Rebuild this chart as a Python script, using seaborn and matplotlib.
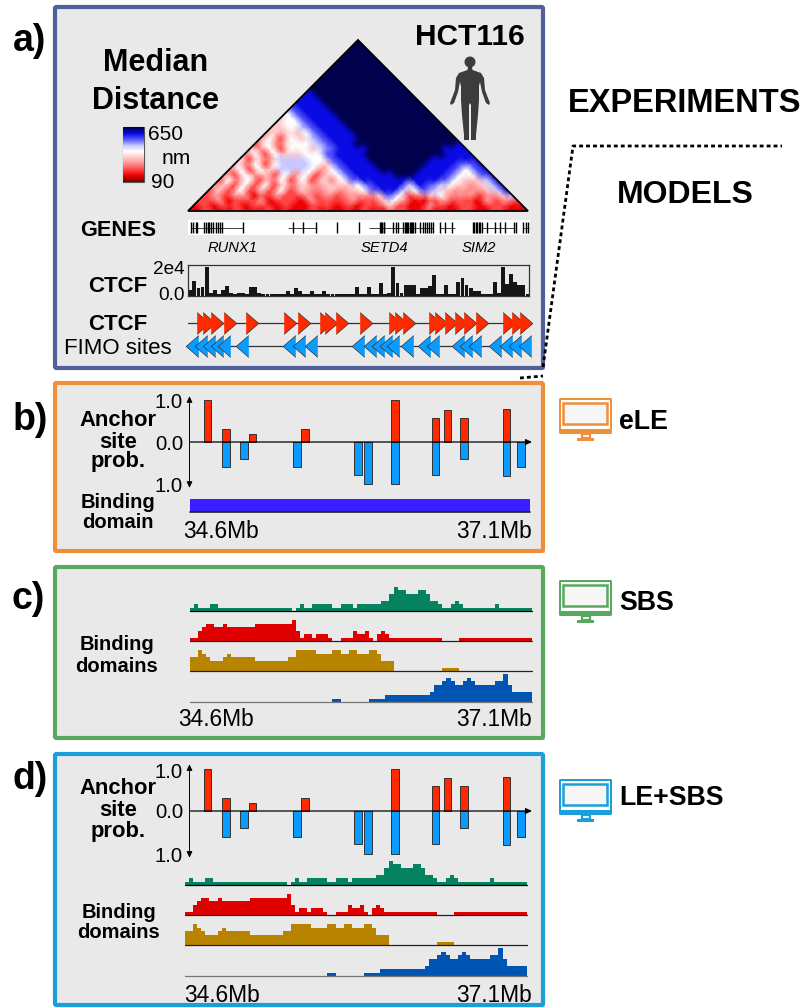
import numpy as np
import matplotlib
matplotlib.use("Agg")
import matplotlib.pyplot as plt
import seaborn as sns
from matplotlib.colors import LinearSegmentedColormap
from matplotlib.patches import Rectangle, Polygon, FancyBboxPatch, Circle
from matplotlib.transforms import Affine2D

sns.set_theme(style="white")
plt.rcParams["font.family"] = ["Liberation Sans", "DejaVu Sans"]

W, H = 803, 1008

# median distance map, one string per diagonal (0 = 90 nm ... 9 = 650 nm)
hic_diagonals = [
    "11211 21121 11211 11211 22121 11211 2111",
    "12122 12212 11221 21224 21132 12212 211",
    "22312 23122 13222 32245 31123 22132 32",
    "23233 12322 32323 33475 23453 33234 6",
    "24252 42524 33434 57886 57643 33468",
    "34252 52434 34445 78886 87654 3468",
    "25352 35252 43578 88888 88754 468",
    "32534 25352 45788 88998 88755 78",
    "35254 66653 57888 99998 88757 8",
    "43525 66654 78889 99998 88778",
    "52436 66557 88899 99998 8888",
    "35254 45578 88999 99999 888",
    "43525 54678 88999 99998 88",
    "25345 56788 99999 99999 8",
    "35254 67888 99999 99999",
    "34445 78889 99999 9999",
    "44567 88899 99999 999",
    "45578 88999 99999 99",
    "45788 89999 99999 9",
    "57888 99999 99999",
    "78889 99999 9999",
    "88899 99999 999",
    "88999 99999 99",
    "89999 99999 9",
    "99999 99999",
    "99999 9999",
    "99999 999",
    "99999 99",
    "99999 9",
    "99999",
    "9999",
    "999",
    "99",
    "9",
]
hic_colors = ["#7a0000", "#ee0000", "#ff4848", "#ff9090", "#ffc8c8",
              "#ffffff", "#c8c8ff", "#5a5aff", "#0a0ae6", "#00004d"]

# genes, in 30 kb bins along the region
exons = [0.6, 1.1, 1.9, 2.2, 3.9, 4.3, 4.8, 5.2, 5.5, 6.1, 6.7, 7.4, 7.8, 8.2, 13.5,
         25.7, 28.3, 31.3, 36.5, 42.0, 47.1, 47.4, 47.7, 48.0, 48.2, 50.4, 51.0, 51.6,
         52.9, 53.2, 53.5, 53.8, 54.1, 54.4, 54.7, 55.0, 55.3, 55.7, 57.0, 57.6, 58.2,
         58.6, 59.2, 59.6, 60.2, 61.9, 63.1, 64.8, 69.9, 70.3, 70.7, 71.0, 71.4, 71.8,
         72.1, 73.4, 75.4, 76.6, 77.9, 80.1, 80.6, 82.4, 83.0, 83.6]
gene_starts = [0.6, 24.6, 44.5, 61.9, 72.1, 82.4]
gene_ends = [13.5, 31.6, 60.2, 65.6, 80.3, 83.7]

# CTCF signal, thousands
ctcf = [4, 10, 5, 6, 19, 2, 4, 1.5, 4, 6.5, 2, 1, 2, 2, 1, 6, 6, 2, 1.5, 1,
        1.5, 1, 1, 1, 3.5, 1.5, 5, 3.5, 1.5, 1, 3, 1, 1, 3.5, 1.5, 1.5, 1.5, 1.5, 1.5, 1.5,
        1, 6, 1.5, 1, 6, 1.5, 1.5, 8.5, 1.5, 2, 19, 8.5, 2, 7, 7, 7.5, 1.5, 5.5, 5.5, 6.5,
        14, 1.5, 1.5, 7, 1, 1, 9, 12, 7, 5, 3.5, 3, 1.5, 1, 1, 9, 2, 19, 8, 14.5,
        9.5, 7.5, 7.5, 1]

fimo_forward = [3.5, 5.2, 7.0, 10.2, 15.7, 24.9, 28.5, 33.8, 35.2, 37.9, 43.7, 50.7,
                52.3, 54.3, 60.7, 62.1, 64.6, 67.0, 69.3, 72.3, 78.9, 81.0, 83.0]
fimo_reverse = [0.9, 3.0, 5.2, 7.0, 8.8, 13.3, 24.7, 27.1, 30.2, 41.7, 44.6, 46.7,
                48.6, 50.4, 53.7, 57.9, 60.1, 66.2, 68.3, 70.4, 75.5, 78.0, 80.3, 82.8]

# anchor probabilities, positions in 15 kb steps
anchor_fwd_pos = [9, 18, 31, 57, 101, 121, 127, 135, 156]
anchor_fwd_prob = [1.0, 0.3, 0.2, 0.3, 1.0, 0.58, 0.77, 0.58, 0.8]
anchor_rev_pos = [18, 27, 53, 83, 88, 101, 121, 135, 156, 163]
anchor_rev_prob = [0.6, 0.4, 0.6, 0.78, 1.0, 1.0, 0.78, 0.4, 0.81, 0.6]

# binding domain abundance per bin
domain_green = [1, 2, 1, 1, 1, 2, 2, 1, 1, 1,
                1, 1, 1, 1, 1, 1, 1, 1, 1, 1,
                1, 1, 1, 1, 1, 0, 1, 2, 1, 1,
                2, 2, 2, 2, 2, 1, 1, 2, 2, 2,
                1, 2, 2, 2, 2, 2, 2, 3, 3, 5,
                7, 6, 6, 5, 5, 5, 6, 6, 5, 3,
                3, 2, 1, 1, 2, 3, 2, 1, 1, 1,
                1, 1, 1, 1, 1, 2, 1, 1, 1, 1,
                1, 1, 1, 1]
domain_red = [1, 1, 3, 4, 5, 5, 4, 4, 5, 4,
              4, 4, 4, 4, 4, 4, 5, 5, 5, 5,
              5, 5, 5, 5, 5, 6, 3, 1, 2, 2,
              1, 2, 2, 2, 1, 0, 0, 1, 1, 1,
              3, 2, 2, 3, 1, 0, 2, 3, 2, 1,
              1, 1, 1, 1, 1, 1, 1, 1, 1, 1,
              1, 1, 0, 0, 0, 0, 1, 1, 1, 1,
              1, 1, 1, 1, 1, 1, 1, 1, 1, 1,
              1, 1, 1, 1]
domain_gold = [4, 4, 6, 5, 4, 3, 3, 3, 4, 5,
               4, 4, 4, 4, 4, 4, 3, 3, 3, 3,
               3, 3, 3, 3, 4, 4, 6, 6, 6, 6,
               6, 5, 5, 5, 5, 6, 6, 5, 5, 6,
               6, 5, 5, 5, 6, 6, 5, 3, 3, 3,
               0, 0, 0, 0, 0, 0, 0, 0, 0, 0,
               0, 0, 1, 1, 1, 1, 0, 0, 0, 0,
               0, 0, 0, 0, 0, 0, 0, 0, 0, 0,
               0, 0, 0, 0]
domain_blue = [0, 0, 0, 0, 0, 0, 0, 0, 0, 0,
               0, 0, 0, 0, 0, 0, 0, 0, 0, 0,
               0, 0, 0, 0, 0, 0, 0, 0, 0, 0,
               0, 0, 0, 0, 0, 1, 1, 0, 0, 0,
               0, 0, 0, 0, 1, 1, 1, 1, 2, 2,
               2, 2, 2, 2, 2, 2, 2, 2, 2, 3,
               5, 5, 6, 7, 6, 5, 5, 6, 7, 6,
               5, 5, 5, 5, 5, 6, 6, 8, 5, 3,
               3, 3, 3, 3]
domain_single = [1] * 84

fig = plt.figure(figsize=(W / 100, H / 100), dpi=100)
fig.patch.set_facecolor("white")


def px_axes(x0, y0, x1, y1, zorder=2):
    a = fig.add_axes([x0 / W, 1 - y1 / H, (x1 - x0) / W, (y1 - y0) / H], zorder=zorder)
    a.patch.set_alpha(0)
    return a


base = px_axes(0, 0, W, H, zorder=0)
base.set_xlim(0, W)
base.set_ylim(H, 0)
base.axis("off")
top = px_axes(0, 0, W, H, zorder=5)
top.set_xlim(0, W)
top.set_ylim(H, 0)
top.axis("off")


def label(x, y, s, size, bold=True, ha="center", italic=False):
    # va="center" sits a bit high for this font
    top.text(x, y + 2, s, fontsize=size, ha=ha, va="center", color="black",
             fontweight="bold" if bold else "normal",
             fontstyle="italic" if italic else "normal")


def frame(x0, y0, x1, y1, color):
    base.add_patch(Rectangle((x0 + 2, y0 + 2), x1 - x0, y1 - y0, fc="#d6d6d6", ec="none"))
    base.add_patch(FancyBboxPatch((x0, y0), x1 - x0, y1 - y0, boxstyle="round,pad=0,rounding_size=1.5",
                                  fc="#e9e9e9", ec=color, lw=3))


def monitor(x0, y0, color):
    w, h = 53, 36
    base.add_patch(FancyBboxPatch((x0, y0), w, h, boxstyle="round,pad=0,rounding_size=1.5",
                                  fc=color, ec="none"))
    base.add_patch(Rectangle((x0 + 2, y0 + 2), w - 4, h - 7, fc="white", ec="none"))
    base.add_patch(Rectangle((x0 + 4.5, y0 + 4.5), w - 9, h - 15, fc="#f6f6f6", ec=color, lw=1.8))
    base.add_patch(Polygon([(x0 + 23, y0 + h), (x0 + 31, y0 + h), (x0 + 31, y0 + h + 4),
                            (x0 + 23, y0 + h + 4)], fc="white", ec=color, lw=1.6))
    base.add_patch(Rectangle((x0 + 18, y0 + h + 4), 17, 3, fc=color, ec="none"))


frame(55, 7, 543, 368, "#52609a")
frame(55, 383, 543, 551, "#ef8f3c")
frame(55, 567, 543, 738, "#5aa85e")
frame(55, 754, 543, 1005, "#1c9fd8")
base.set_ylim(H, 0)

# panel letters and headings
label(30, 39, "a)", 27)
label(30, 418, "b)", 27)
label(28, 597, "c)", 27)
label(30, 777, "d)", 27)
label(156, 61, "Median", 22)
label(156, 99, "Distance", 22)
label(470, 35, "HCT116", 21.5)
label(685, 101, "EXPERIMENTS", 23.5)
label(685, 193, "MODELS", 23)
label(166, 133, "650", 15, bold=False)
label(176, 157, "nm", 15, bold=False)
label(163, 181, "90", 15, bold=False)

# person
half = [(2, 67), (2.5, 70), (11, 73), (14, 78), (15, 90), (18, 98), (20, 103), (19, 105),
        (16, 103), (12, 92), (10, 82), (9, 86), (9, 100), (8, 115), (6, 135), (6, 140),
        (1, 140), (1, 105), (0, 103)]
body = [(470 + dx, y) for dx, y in half] + [(470 - dx, y) for dx, y in half[::-1]]
base.add_patch(Polygon(body, fc="#3c3c3c", ec="none"))
base.add_patch(Circle((470, 62), 5.5, fc="#3c3c3c", ec="none"))

# dashed link between experiments and models
base.plot([543, 573, 782], [367, 146, 146], color="black", lw=2, dashes=(1.4, 1.1))
top.plot([520, 543], [378, 376], color="black", lw=2, dashes=(1.4, 1.1))

# distance map, symmetric matrix turned on its corner
cmap = LinearSegmentedColormap.from_list("dist", hic_colors)
N = len(hic_diagonals)
hic = np.zeros((N, N))
for d, row in enumerate(hic_diagonals):
    for k, c in enumerate(row.replace(" ", "")):
        hic[k, k + d] = int(c)
        hic[k + d, k] = int(c)

ax = px_axes(188, 40, 528, 211)
sns.heatmap(hic, cmap=cmap, vmin=0, vmax=9, cbar=False, xticklabels=False, yticklabels=False,
            shading="gouraud", ax=ax)
mesh = ax.collections[0]
ax.set_xlim(0, N - 1)
ax.set_ylim(0, (N - 1) / 2)
ax.axis("off")
mesh.set_transform(Affine2D(matrix=[[0.5, 0.5, 0], [0.5, -0.5, 0], [0, 0, 1]]) + ax.transData)
tri = Polygon([(0, 0), (N - 1, 0), ((N - 1) / 2, (N - 1) / 2)], closed=True, fc="none", ec="black", lw=1.3,
              clip_on=False, zorder=3)
ax.add_patch(tri)
mesh.set_clip_path(tri)

# colour scale
cax = px_axes(123, 127, 144, 182)
sns.heatmap(np.linspace(9, 0, 55).reshape(-1, 1), cmap=cmap, vmin=0, vmax=9, cbar=False,
            xticklabels=False, yticklabels=False, ax=cax)
cax.axis("off")
base.add_patch(Rectangle((123, 127), 21, 55, fc="none", ec="#555555", lw=0.8))

# genes
label(118, 229, "GENES", 15.6)
gax = px_axes(188.3, 220, 530, 235)
gax.set_xlim(0, 84)
gax.set_ylim(0, 1)
gax.axis("off")
gax.add_patch(Rectangle((0, 0), 84, 1, fc="white", ec="none"))
gax.hlines([0.5] * len(gene_starts), gene_starts, gene_ends, color="#222222", lw=0.6)
gax.vlines(exons, 0.12, 0.88, color="black", lw=1.0)
label(233, 246, "RUNX1", 10.6, bold=False, italic=True)
label(384, 246, "SETD4", 10.6, bold=False, italic=True)
label(479, 246, "SIM2", 10.6, bold=False, italic=True)

# CTCF signal
label(118, 284, "CTCF", 16)
label(185, 268, "2e4", 13.7, bold=False, ha="right")
label(185, 294, "0.0", 13.7, bold=False, ha="right")
sax = px_axes(188.3, 265, 529.5, 296)
sns.barplot(x=np.arange(len(ctcf)), y=ctcf, color="#151515", saturation=1, width=0.96, linewidth=0, ax=sax)
sax.set_xlim(-0.5, len(ctcf) - 0.5)
sax.set_ylim(0, 20.5)
sax.set(xticks=[], yticks=[], xlabel="", ylabel="")
for s in sax.spines.values():
    s.set_visible(True)
    s.set_color("#333333")
    s.set_linewidth(0.9)

# CTCF sites
label(118, 323, "CTCF", 16)
label(118, 346, "FIMO sites", 16, bold=False)
tax = px_axes(188.3, 312, 530, 357)
right_tri = [(-0.58, -1), (0.58, 0), (-0.58, 1)]
left_tri = [(0.58, -1), (-0.58, 0), (0.58, 1)]
tax.axhline(1, color="#333333", lw=0.9, zorder=0)
tax.axhline(0, color="#333333", lw=0.9, zorder=0)
sns.scatterplot(x=fimo_forward, y=[1] * len(fimo_forward), marker=right_tri, s=245, color="#ff2a00",
                edgecolor="#333333", linewidth=0.5, ax=tax, clip_on=False)
sns.scatterplot(x=fimo_reverse, y=[0] * len(fimo_reverse), marker=left_tri, s=245, color="#0a9bff",
                edgecolor="#333333", linewidth=0.5, ax=tax, clip_on=False)
tax.set_xlim(0, 84)
tax.set_ylim(-0.5, 1.5)
tax.axis("off")


def anchor_track(y_zero, scale):
    a = px_axes(188.3, y_zero - 1.05 * scale, 530, y_zero + 1.05 * scale, zorder=3)
    order = list(range(168))
    sns.barplot(x=anchor_fwd_pos, y=anchor_fwd_prob, order=order, color="#ff2a00", saturation=1,
                width=3.8, edgecolor="#333333", linewidth=0.7, ax=a)
    sns.barplot(x=anchor_rev_pos, y=[-p for p in anchor_rev_prob], order=order, color="#0a9bff", saturation=1,
                width=3.8, edgecolor="#333333", linewidth=0.7, ax=a)
    a.set_xlim(-0.5, 167.5)
    a.set_ylim(-1.05, 1.05)
    a.axis("off")
    top.annotate("", xy=(189.5, y_zero - 1.1 * scale), xytext=(189.5, y_zero + 1.1 * scale),
                 arrowprops=dict(arrowstyle="<|-|>,head_width=0.14,head_length=0.3", color="black", lw=0.7,
                                 shrinkA=0, shrinkB=0))
    top.annotate("", xy=(532, y_zero), xytext=(189.5, y_zero),
                 arrowprops=dict(arrowstyle="-|>,head_width=0.14,head_length=0.3", color="black", lw=0.9,
                                 shrinkA=0, shrinkB=0))


def domain_track(x0, x1, y_base, values, color, line_color="black", line_width=0.9):
    a = px_axes(x0, y_base - 30, x1, y_base + 1, zorder=3)
    sns.barplot(x=np.arange(len(values)), y=values, color=color, saturation=1, width=1, linewidth=0,
                antialiased=False, ax=a)
    a.set_xlim(-0.5, len(values) - 0.5)
    a.set_ylim(-1 / 3.5, 30 / 3.5)
    a.axis("off")
    a.axhline(-0.08, color=line_color, lw=line_width, clip_on=False, zorder=5)


# panel b
label(118, 418, "Anchor", 15.8)
label(118, 440, "site", 15.8)
label(118, 460, "prob.", 15.8)
label(183, 400, "1.0", 14.7, bold=False, ha="right")
label(183, 442, "0.0", 14.7, bold=False, ha="right")
label(183, 485, "1.0", 14.7, bold=False, ha="right")
anchor_track(442, 41.7)
label(118, 500, "Binding", 14.5)
label(118, 521, "domain", 14.5)
bax = px_axes(190, 499, 530, 512, zorder=3)
sns.barplot(x=np.arange(84), y=domain_single, color="#3a1eff", saturation=1, width=1, linewidth=0,
            antialiased=False, ax=bax)
bax.set_xlim(-0.5, 83.5)
bax.set_ylim(0, 1)
bax.axis("off")
bax.axhline(0, color="#222222", lw=1.2, clip_on=False)
label(183, 529, "34.6Mb", 16.4, bold=False, ha="left")
label(532, 529, "37.1Mb", 16.4, bold=False, ha="right")
monitor(559, 398, "#ef8f3c")
label(619, 420, "eLE", 19.3, ha="left")

# panel c
label(117, 643, "Binding", 14.5)
label(117, 664, "domains", 14.5)
domain_track(190, 532, 611, domain_green, "#058260")
domain_track(190, 532, 641, domain_red, "#e00000", "#222222")
domain_track(190, 532, 671, domain_gold, "#b88400", "#222222")
domain_track(190, 532, 702, domain_blue, "#0055b3", "#777777", 0.9)
label(178, 717, "34.6Mb", 16.4, bold=False, ha="left")
label(532, 717, "37.1Mb", 16.4, bold=False, ha="right")
monitor(559, 580, "#5aa85e")
label(619, 601, "SBS", 19.3, ha="left")

# panel d
label(118, 787, "Anchor", 15.8)
label(118, 808, "site", 15.8)
label(118, 829, "prob.", 15.8)
label(183, 770, "1.0", 14.7, bold=False, ha="right")
label(183, 811, "0.0", 14.7, bold=False, ha="right")
label(183, 854, "1.0", 14.7, bold=False, ha="right")
anchor_track(811, 42.5)
label(119, 910, "Binding", 14.5)
label(119, 931, "domains", 14.5)
domain_track(185, 527, 885, domain_green, "#058260")
domain_track(185, 527, 915, domain_red, "#e00000", "#222222")
domain_track(185, 527, 945, domain_gold, "#b88400", "#222222")
domain_track(185, 527, 976, domain_blue, "#0055b3", "#777777", 0.9)
label(184, 993, "34.6Mb", 16.4, bold=False, ha="left")
label(532, 993, "37.1Mb", 16.4, bold=False, ha="right")
monitor(559, 779, "#1c9fd8")
label(619, 796, "LE+SBS", 19.3, ha="left")

fig.savefig("out.png", dpi=100)
